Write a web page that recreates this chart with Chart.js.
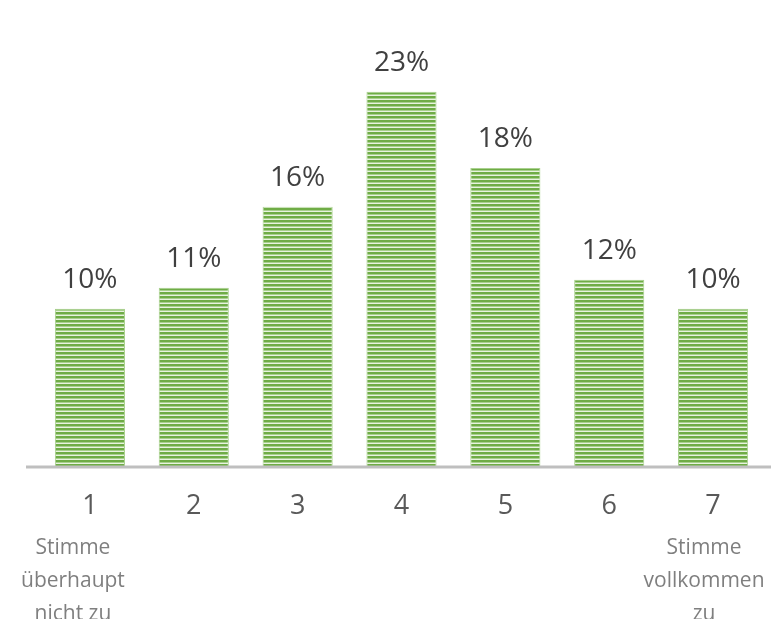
<!DOCTYPE html>
<html>
<head>
<meta charset="utf-8">
<script src="https://cdn.jsdelivr.net/npm/chart.js@4/dist/chart.umd.min.js"></script>
<style>
  html, body { margin: 0; padding: 0; background: #fff; }
  #wrap { width: 771px; height: 619px; position: relative; }
</style>
</head>
<body>
<div id="wrap"><canvas id="chart"></canvas></div>
<script>
const categories = ['1', '2', '3', '4', '5', '6', '7'];
const shares = [9.7, 11.0, 16.0, 23.1, 18.4, 11.5, 9.7];
const leftNote = ['Stimme', 'überhaupt', 'nicht zu'];
const rightNote = ['Stimme', 'vollkommen', 'zu'];

function stripes() {
  const c = document.createElement('canvas');
  c.width = 8;
  c.height = 4;
  const g = c.getContext('2d');
  g.fillStyle = '#6FAC46';
  g.fillRect(0, 0, 8, 2);
  g.fillStyle = '#A8D08D';
  g.fillRect(0, 2, 8, 1);
  g.fillStyle = '#E8F2E0';
  g.fillRect(0, 3, 8, 1);
  return g.createPattern(c, 'repeat');
}

const extras = {
  id: 'extras',
  afterDatasetsDraw(chart) {
    const ctx = chart.ctx;
    const meta = chart.getDatasetMeta(0);
    const x = chart.scales.x;
    const y = chart.scales.y;
    ctx.save();

    // baseline
    const y0 = y.getPixelForValue(0);
    ctx.strokeStyle = '#BFBFBF';
    ctx.lineWidth = 3;
    ctx.beginPath();
    ctx.moveTo(26, y0 + 1);
    ctx.lineTo(chart.width, y0 + 1);
    ctx.stroke();

    // value labels
    ctx.fillStyle = '#404040';
    ctx.font = '28px "Open Sans"';
    ctx.textAlign = 'center';
    ctx.textBaseline = 'alphabetic';
    meta.data.forEach((bar, i) => {
      ctx.fillText(Math.round(shares[i]) + '%', bar.x, bar.y - 21);
    });

    // scale end notes
    ctx.fillStyle = '#7F7F7F';
    ctx.font = '21px "Open Sans"';
    ctx.textBaseline = 'middle';
    const xl = x.getPixelForValue(0) - 17;
    const xr = x.getPixelForValue(categories.length - 1) - 9;
    leftNote.forEach((t, i) => ctx.fillText(t, xl, 548 + i * 33));
    rightNote.forEach((t, i) => ctx.fillText(t, xr, 548 + i * 33));
    ctx.restore();
  }
};

const ctx = document.getElementById('chart').getContext('2d');
new Chart(ctx, {
  type: 'bar',
  data: {
    labels: categories,
    datasets: [{
      data: shares,
      backgroundColor: stripes(),
      borderColor: '#A9D18E',
      borderWidth: 1,
      categoryPercentage: 1,
      barPercentage: 0.675
    }]
  },
  options: {
    responsive: true,
    maintainAspectRatio: false,
    animation: false,
    layout: { padding: { left: 38, right: 6, top: 61, bottom: 0 } },
    plugins: {
      legend: { display: false },
      tooltip: { enabled: false }
    },
    scales: {
      x: {
        grid: { display: false, drawTicks: false },
        border: { display: false },
        ticks: {
          color: '#595959',
          font: { family: 'Open Sans', size: 27 },
          padding: 24,
          maxRotation: 0
        },
        afterFit(scale) { scale.height = 153; }
      },
      y: {
        display: false,
        min: 0,
        max: 25
      }
    }
  },
  plugins: [extras]
});
</script>
</body>
</html>
